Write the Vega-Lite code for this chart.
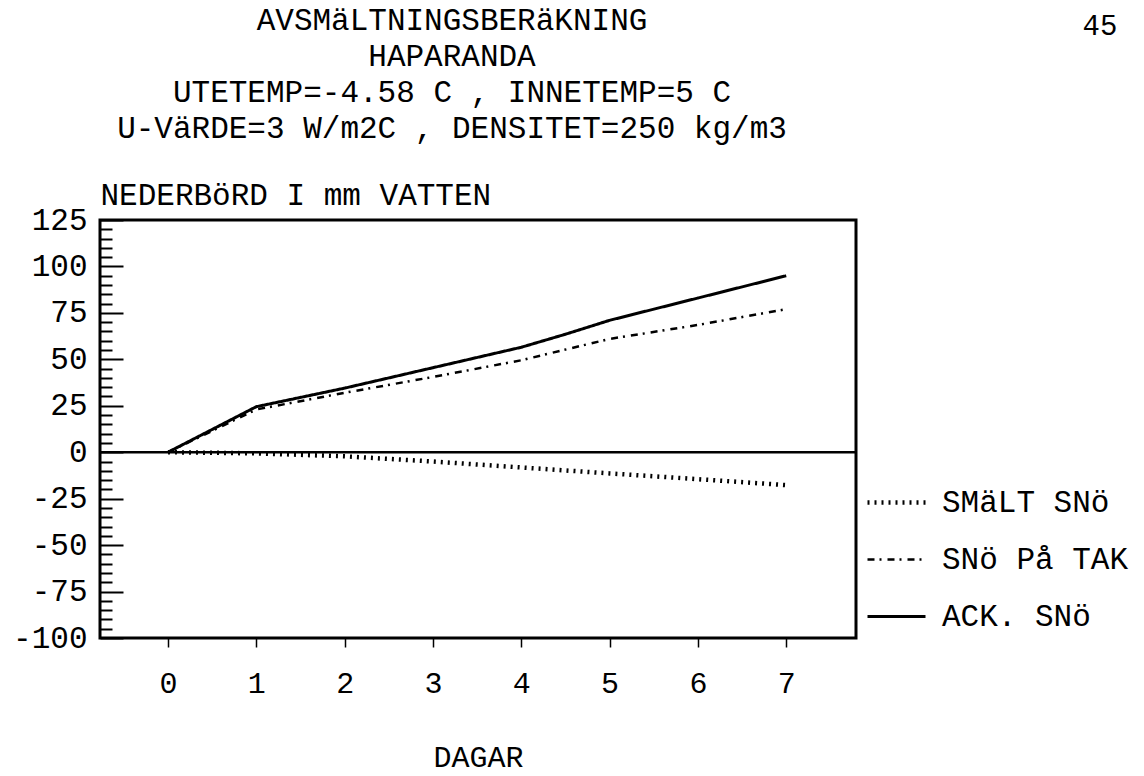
{
  "$schema": "https://vega.github.io/schema/vega-lite/v6.json",
  "width": 756,
  "height": 418,
  "autosize": "none",
  "padding": {"left": 100, "top": 220, "right": 288, "bottom": 138},
  "background": "white",
  "config": {
    "view": {"stroke": "black", "strokeWidth": 3},
    "font": "Liberation Mono",
    "axis": {"labelColor": "black", "titleColor": "black", "tickColor": "black", "labelFont": "Liberation Mono", "titleFont": "Liberation Mono", "titleFontWeight": "normal"},
    "legend": {"labelColor": "black", "labelFont": "Liberation Mono"}
  },
  "title": {
    "text": ["AVSMäLTNINGSBERäKNING", "HAPARANDA", "UTETEMP=-4.58 C , INNETEMP=5 C", "U-VäRDE=3 W/m2C , DENSITET=250 kg/m3"],
    "font": "Liberation Mono",
    "fontSize": 31,
    "fontWeight": "normal",
    "color": "black",
    "lineHeight": 36,
    "anchor": "middle",
    "baseline": "alphabetic",
    "dx": -26,
    "offset": -158
  },
  "data": {
    "values": [
      {"dag": 0, "varde": 0, "serie": "SMäLT SNö"},
      {"dag": 1, "varde": -0.6, "serie": "SMäLT SNö"},
      {"dag": 2, "varde": -2.2, "serie": "SMäLT SNö"},
      {"dag": 3, "varde": -5.0, "serie": "SMäLT SNö"},
      {"dag": 4, "varde": -8.2, "serie": "SMäLT SNö"},
      {"dag": 5, "varde": -11.4, "serie": "SMäLT SNö"},
      {"dag": 6, "varde": -14.5, "serie": "SMäLT SNö"},
      {"dag": 7, "varde": -17.7, "serie": "SMäLT SNö"},
      {"dag": 0, "varde": 0, "serie": "SNö På TAK"},
      {"dag": 1, "varde": 23, "serie": "SNö På TAK"},
      {"dag": 2, "varde": 32, "serie": "SNö På TAK"},
      {"dag": 3, "varde": 40.5, "serie": "SNö På TAK"},
      {"dag": 4, "varde": 49.5, "serie": "SNö På TAK"},
      {"dag": 5, "varde": 61, "serie": "SNö På TAK"},
      {"dag": 6, "varde": 68.5, "serie": "SNö På TAK"},
      {"dag": 7, "varde": 77, "serie": "SNö På TAK"},
      {"dag": 0, "varde": 0, "serie": "ACK. SNö"},
      {"dag": 1, "varde": 24.5, "serie": "ACK. SNö"},
      {"dag": 2, "varde": 34.5, "serie": "ACK. SNö"},
      {"dag": 3, "varde": 45.5, "serie": "ACK. SNö"},
      {"dag": 4, "varde": 56.5, "serie": "ACK. SNö"},
      {"dag": 4.5, "varde": 63.5, "serie": "ACK. SNö"},
      {"dag": 5, "varde": 71, "serie": "ACK. SNö"},
      {"dag": 6, "varde": 83, "serie": "ACK. SNö"},
      {"dag": 7, "varde": 95, "serie": "ACK. SNö"}
    ]
  },
  "layer": [
    {
      "data": {"values": [{"noll": 0}]},
      "mark": {"type": "rule", "color": "black", "strokeWidth": 2.5},
      "encoding": {
        "y": {
          "field": "noll",
          "type": "quantitative",
          "scale": {"domain": [-100, 125], "nice": false, "zero": false},
          "axis": {
            "orient": "right",
            "title": "45",
            "titleFont": "Liberation Mono",
            "titleFontSize": 29,
            "titleAngle": 0,
            "titleAlign": "left",
            "titleBaseline": "alphabetic",
            "titleX": 226,
            "titleY": -186,
            "labels": false,
            "ticks": false,
            "domain": false,
            "grid": false
          }
        }
      }
    },
    {
      "mark": {"type": "line", "color": "black"},
      "encoding": {
        "x": {
          "field": "dag",
          "type": "quantitative",
          "scale": {"domain": [-0.77, 7.79], "nice": false, "zero": false},
          "axis": {
            "values": [0, 1, 2, 3, 4, 5, 6, 7],
            "title": "DAGAR",
            "titleFontSize": 30,
            "titleBaseline": "alphabetic",
            "titleY": 128,
            "labelFontSize": 30,
            "labelPadding": 21,
            "tickSize": 9,
            "tickWidth": 1.5,
            "domain": false,
            "grid": false
          }
        },
        "y": {
          "field": "varde",
          "type": "quantitative",
          "scale": {"domain": [-100, 125], "nice": false, "zero": false},
          "axis": {
            "orient": "left",
            "values": [-100, -95, -90, -85, -80, -75, -70, -65, -60, -55, -50, -45, -40, -35, -30, -25, -20, -15, -10, -5, 0, 5, 10, 15, 20, 25, 30, 35, 40, 45, 50, 55, 60, 65, 70, 75, 80, 85, 90, 95, 100, 105, 110, 115, 120, 125],
            "title": "NEDERBöRD I mm VATTEN",
            "titleFontSize": 31,
            "titleAngle": 0,
            "titleAlign": "left",
            "titleBaseline": "alphabetic",
            "titleX": 0,
            "titleY": -16,
            "labelExpr": "datum.value % 25 === 0 ? '' + datum.value : ''",
            "labelFontSize": 31,
            "labelPadding": 36,
            "labelOverlap": false,
            "labelBound": false,
            "labelFlush": false,
            "tickWidth": 2,
            "tickSize": {"condition": {"test": "datum.value % 25 === 0", "value": -23}, "value": -12},
            "domain": false,
            "grid": false
          }
        },
        "strokeDash": {
          "field": "serie",
          "type": "nominal",
          "scale": {"domain": ["SMäLT SNö", "SNö På TAK", "ACK. SNö"], "range": [[2, 5], [7, 5, 2, 6], [1, 0]]},
          "legend": {
            "orient": "none",
            "legendX": 765,
            "legendY": 251,
            "title": null,
            "symbolType": "stroke",
            "symbolSize": 3364,
            "symbolStrokeColor": "black",
            "labelFontSize": 31,
            "labelLimit": 400,
            "labelOffset": 14,
            "rowPadding": 11,
            "padding": 0
          }
        },
        "strokeWidth": {
          "field": "serie",
          "type": "nominal",
          "scale": {"type": "ordinal", "domain": ["SMäLT SNö", "SNö På TAK", "ACK. SNö"], "range": [4.5, 2.5, 3]},
          "legend": {
            "orient": "none",
            "legendX": 765,
            "legendY": 251,
            "title": null,
            "symbolType": "stroke",
            "symbolSize": 3364,
            "symbolStrokeColor": "black",
            "labelFontSize": 31,
            "labelLimit": 400,
            "labelOffset": 14,
            "rowPadding": 11,
            "padding": 0
          }
        }
      }
    }
  ],
  "resolve": {"axis": {"y": "independent"}}
}
